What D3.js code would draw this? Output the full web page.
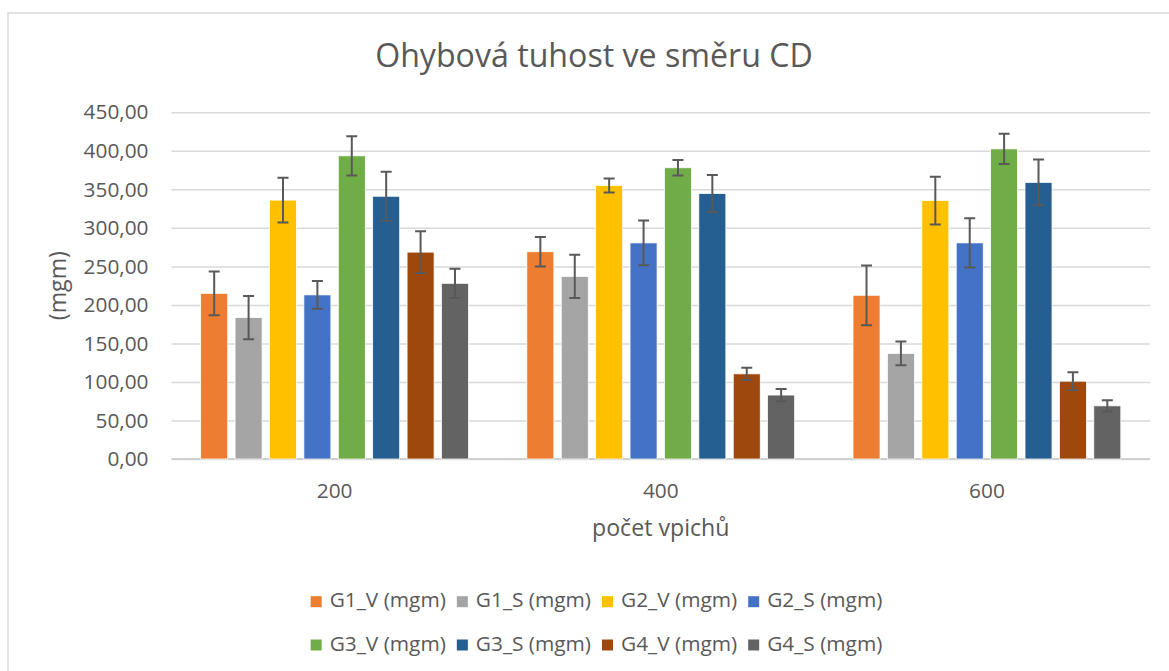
<!DOCTYPE html>
<html><head><meta charset="utf-8">
<script src="https://cdn.jsdelivr.net/npm/d3@7"></script>
<style>
html,body{margin:0;padding:0;background:#fff;}
svg{display:block;font-family:"Open Sans",sans-serif;}
</style></head>
<body>
<svg id="chart" width="1169" height="671"></svg>
<script>
const categories = ["200", "400", "600"];
const seriesNames = ["G1_V (mgm)", "G1_S (mgm)", "G2_V (mgm)", "G2_S (mgm)", "G3_V (mgm)", "G3_S (mgm)", "G4_V (mgm)", "G4_S (mgm)"];
const seriesColors = ["#ED7D31", "#A5A5A5", "#FFC000", "#4472C4", "#70AD47", "#255E91", "#9E480E", "#636363"];
const G1_V = [215, 269, 212.5];
const G1_S = [183.5, 237, 137];
const G2_V = [336, 355, 335.5];
const G2_S = [213, 280.5, 280.5];
const G3_V = [393.5, 378, 402.5];
const G3_S = [341, 344.5, 359];
const G4_V = [268.5, 110.5, 101];
const G4_S = [228, 83, 69];
const G1_V_err = [28.5, 19, 38.8];
const G1_S_err = [28, 28, 15.4];
const G2_V_err = [29, 9, 31];
const G2_S_err = [18, 29, 32];
const G3_V_err = [25.5, 10, 19.7];
const G3_S_err = [31.8, 24, 29.6];
const G4_V_err = [27, 8, 11.5];
const G4_S_err = [19, 8, 7.3];
const yTicks = [0, 50, 100, 150, 200, 250, 300, 350, 400, 450];
const title = "Ohybová tuhost ve směru CD";
const xTitle = "počet vpichů";
const yTitle = "(mgm)";

const values = [G1_V, G1_S, G2_V, G2_S, G3_V, G3_S, G4_V, G4_S];
const errors = [G1_V_err, G1_S_err, G2_V_err, G2_S_err, G3_V_err, G3_S_err, G4_V_err, G4_S_err];

const svg = d3.select("#chart");
const textColor = "#595959";
const gridColor = "#d9d9d9";

// outer chart border
svg.append("rect").attr("x", 8).attr("y", 13).attr("width", 1175).attr("height", 700)
  .attr("fill", "#fff").attr("stroke", "#d9d9d9").attr("stroke-width", 1.5);

const plot = {left: 171.5, right: 1150, top: 112.3, bottom: 459};

const x0 = d3.scaleBand().domain(categories).range([plot.left, plot.right])
  .paddingInner(0.179).paddingOuter(0.0895);
const x1 = d3.scaleBand().domain(seriesNames).range([0, x0.bandwidth()])
  .paddingInner(0.215).paddingOuter(0);
const y = d3.scaleLinear().domain([0, 450]).range([plot.bottom, plot.top]);

// font fitting helper
function fitSize(str, targetW, base) {
  const t = svg.append("text").attr("font-size", base).text(str);
  const w = t.node().getComputedTextLength();
  t.remove();
  return base * targetW / w;
}
const tickSize = fitSize("450,00", 65, 20);
const axisTitleSize = tickSize * 10 / 9;
const titleSize = fitSize(title, 438, 30);

// gridlines
const yAxis = d3.axisLeft(y).tickValues(yTicks)
  .tickSize(-(plot.right - plot.left))
  .tickFormat(d => d3.format(".2f")(d).replace(".", ","))
  .tickPadding(23);
const gy = svg.append("g").attr("transform", `translate(${plot.left},0)`).call(yAxis);
gy.select(".domain").remove();
gy.selectAll(".tick line").attr("stroke", gridColor).attr("stroke-width", 1.5);
gy.selectAll(".tick text").attr("fill", textColor).attr("font-size", tickSize)
  .attr("font-family", "'Open Sans',sans-serif");

// x axis
const xAxis = d3.axisBottom(x0).tickSize(0).tickPadding(24);
const gx = svg.append("g").attr("transform", `translate(0,${plot.bottom})`).call(xAxis);
gx.select(".domain").attr("stroke", "#d0d0d0").attr("stroke-width", 2)
  .attr("d", `M${plot.left},0H${plot.right}`);
gx.selectAll(".tick text").attr("fill", textColor).attr("font-size", tickSize)
  .attr("font-family", "'Open Sans',sans-serif");

// bars
const groups = svg.append("g").selectAll("g").data(categories).join("g")
  .attr("transform", d => `translate(${x0(d)},0)`);
groups.each(function(cat, ci) {
  const g = d3.select(this);
  seriesNames.forEach((s, si) => {
    const v = values[si][ci];
    g.append("rect")
      .attr("x", x1(s)).attr("width", x1.bandwidth())
      .attr("y", y(v)).attr("height", y(0) - y(v))
      .attr("fill", seriesColors[si])
      .attr("stroke", "#ffffff").attr("stroke-width", 0.75);
  });
  seriesNames.forEach((s, si) => {
    const v = values[si][ci], e = errors[si][ci];
    const cx = x1(s) + x1.bandwidth() / 2;
    const cap = 5.5;
    g.append("path")
      .attr("d", `M${cx},${y(v + e)}V${y(v - e)}M${cx - cap},${y(v + e)}H${cx + cap}M${cx - cap},${y(v - e)}H${cx + cap}`)
      .attr("stroke", "#595959").attr("stroke-width", 2).attr("fill", "none");
  });
});

// title
svg.append("text").attr("x", 594).attr("y", 67).attr("text-anchor", "middle")
  .attr("font-size", titleSize).attr("fill", textColor).text(title);

// axis titles
svg.append("text").attr("x", (plot.left + plot.right) / 2).attr("y", 530)
  .attr("text-anchor", "middle").attr("dominant-baseline", "middle")
  .attr("font-size", axisTitleSize).attr("fill", textColor).text(xTitle);
svg.append("text").attr("transform", `translate(60,${(plot.top + plot.bottom) / 2}) rotate(-90)`)
  .attr("text-anchor", "middle").attr("dominant-baseline", "middle")
  .attr("font-size", axisTitleSize).attr("fill", textColor).text(yTitle);

// legend
const legendRows = [seriesNames.slice(0, 4), seriesNames.slice(4, 8)];
const rowY = [601.7, 645];
const sw = 11, swGap = 8, itemGap = 11;
legendRows.forEach((row, ri) => {
  const lg = svg.append("g");
  let cx = 0;
  row.forEach(name => {
    const si = seriesNames.indexOf(name);
    lg.append("rect").attr("x", cx).attr("y", rowY[ri] - sw / 2).attr("width", sw).attr("height", sw)
      .attr("fill", seriesColors[si]);
    const t = lg.append("text").attr("x", cx + sw + swGap).attr("y", rowY[ri])
      .attr("dominant-baseline", "middle").attr("font-size", tickSize).attr("fill", textColor).text(name);
    cx += sw + swGap + t.node().getComputedTextLength() + itemGap;
  });
  const total = cx - itemGap;
  lg.attr("transform", `translate(${596.5 - total / 2},0)`);
});
</script>
</body></html>
